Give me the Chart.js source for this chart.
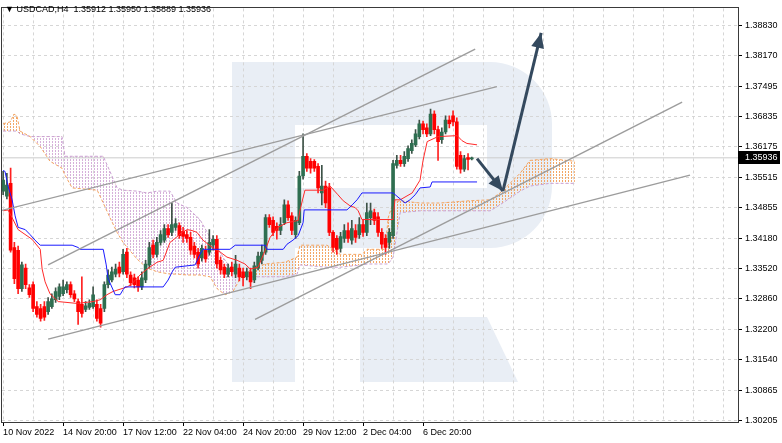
<!DOCTYPE html>
<html>
<head>
<meta charset="utf-8">
<title>USDCAD H4</title>
<script src="https://cdn.jsdelivr.net/npm/chart.js@4.4.1/dist/chart.umd.min.js"></script>
<style>
  html, body { margin: 0; padding: 0; background: #fff; }
  canvas { display: block; }
</style>
</head>
<body>
<canvas id="chart" width="782" height="443"></canvas>
<script>
// ---- values (bar index on x, price on y) ----
const symbolTitle = '\u25BC USDCAD,H4  1.35912 1.35950 1.35889 1.35936';
const lastPrice = 1.35936;

const timeLabels = ['10 Nov 2022', '14 Nov 20:00', '17 Nov 12:00', '22 Nov 04:00', '24 Nov 20:00', '29 Nov 12:00', '2 Dec 04:00', '6 Dec 20:00'];
const timeLabelBars = [0, 16, 32, 48, 64, 80, 96, 112];
const priceTicks = [1.38830, 1.38170, 1.37495, 1.36835, 1.36175, 1.35515, 1.34855, 1.34180, 1.33520, 1.32860, 1.32200, 1.31540, 1.30865, 1.30205];

const candleOpen = [
  1.3521, 1.3510, 1.3538, 1.3398, 1.3392, 1.3308, 1.3353, 1.3310, 1.3317, 1.3269,
  1.3265, 1.3269, 1.3258, 1.3269, 1.3284, 1.3291, 1.3297, 1.3306, 1.3317, 1.3297,
  1.3280, 1.3274, 1.3263, 1.3267, 1.3269, 1.3274, 1.3265, 1.3265, 1.3317, 1.3327,
  1.3340, 1.3355, 1.3345, 1.3388, 1.3338, 1.3332, 1.3327, 1.3312, 1.3327, 1.3360,
  1.3403, 1.3383, 1.3409, 1.3414, 1.3439, 1.3431, 1.3442, 1.3446, 1.3433, 1.3426,
  1.3420, 1.3401, 1.3388, 1.3375, 1.3392, 1.3388, 1.3403, 1.3416, 1.3370, 1.3355,
  1.3340, 1.3355, 1.3340, 1.3353, 1.3345, 1.3334, 1.3345, 1.3327, 1.3353, 1.3370,
  1.3388, 1.3463, 1.3457, 1.3444, 1.3435, 1.3452, 1.3491, 1.3467, 1.3426, 1.3452,
  1.3554, 1.3597, 1.3586, 1.3586, 1.3575, 1.3517, 1.3532, 1.3528, 1.3431, 1.3418,
  1.3396, 1.3418, 1.3435, 1.3414, 1.3435, 1.3426, 1.3448, 1.3431, 1.3463, 1.3474,
  1.3465, 1.3431, 1.3418, 1.3409, 1.3424, 1.3577, 1.3588, 1.3581, 1.3592, 1.3609,
  1.3622, 1.3640, 1.3668, 1.3659, 1.3646, 1.3689, 1.3655, 1.3633, 1.3650, 1.3676,
  1.3685, 1.3672, 1.3599, 1.3569, 1.3594, 1.35912
];
const candleHigh = [
  1.3564, 1.3560, 1.3571, 1.3409, 1.3401, 1.3366, 1.3362, 1.3317, 1.3323, 1.3280,
  1.3274, 1.3280, 1.3289, 1.3297, 1.3310, 1.3319, 1.3327, 1.3323, 1.3323, 1.3304,
  1.3286, 1.3334, 1.3280, 1.3284, 1.3312, 1.3284, 1.3274, 1.3323, 1.3349, 1.3355,
  1.3362, 1.3366, 1.3394, 1.3396, 1.3345, 1.3340, 1.3334, 1.3345, 1.3370, 1.3409,
  1.3414, 1.3420, 1.3435, 1.3448, 1.3448, 1.3495, 1.3461, 1.3452, 1.3442, 1.3435,
  1.3431, 1.3409, 1.3396, 1.3403, 1.3401, 1.3437, 1.3424, 1.3424, 1.3377, 1.3362,
  1.3362, 1.3366, 1.3381, 1.3362, 1.3353, 1.3353, 1.3353, 1.3366, 1.3388, 1.3403,
  1.3470, 1.3470, 1.3465, 1.3452, 1.3463, 1.3502, 1.3500, 1.3474, 1.3465, 1.3564,
  1.3646, 1.3603, 1.3592, 1.3590, 1.3581, 1.3577, 1.3543, 1.3538, 1.3435, 1.3424,
  1.3431, 1.3448, 1.3452, 1.3457, 1.3448, 1.3463, 1.3457, 1.3495, 1.3495, 1.3482,
  1.3474, 1.3439, 1.3426, 1.3439, 1.3588, 1.3599, 1.3599, 1.3607, 1.3620, 1.3633,
  1.3655, 1.3676, 1.3674, 1.3668, 1.3700, 1.3696, 1.3663, 1.3659, 1.3685, 1.3685,
  1.3696, 1.3681, 1.3607, 1.3599, 1.3603, 1.35950
];
const candleLow = [
  1.3513, 1.3504, 1.3388, 1.3319, 1.3297, 1.3302, 1.3308, 1.3289, 1.3258, 1.3246,
  1.3237, 1.3239, 1.3252, 1.3265, 1.3278, 1.3284, 1.3293, 1.3299, 1.3289, 1.3280,
  1.3230, 1.3246, 1.3258, 1.3263, 1.3265, 1.3237, 1.3224, 1.3258, 1.3310, 1.3323,
  1.3334, 1.3334, 1.3340, 1.3332, 1.3314, 1.3310, 1.3302, 1.3306, 1.3321, 1.3353,
  1.3375, 1.3377, 1.3403, 1.3409, 1.3420, 1.3424, 1.3435, 1.3418, 1.3409, 1.3409,
  1.3383, 1.3375, 1.3353, 1.3368, 1.3366, 1.3381, 1.3392, 1.3353, 1.3340, 1.3332,
  1.3334, 1.3336, 1.3332, 1.3325, 1.3314, 1.3327, 1.3308, 1.3321, 1.3349, 1.3362,
  1.3383, 1.3442, 1.3424, 1.3416, 1.3426, 1.3448, 1.3457, 1.3426, 1.3418, 1.3448,
  1.3547, 1.3564, 1.3560, 1.3564, 1.3517, 1.3491, 1.3485, 1.3424, 1.3388, 1.3383,
  1.3388, 1.3409, 1.3409, 1.3405, 1.3409, 1.3418, 1.3422, 1.3424, 1.3448, 1.3448,
  1.3422, 1.3396, 1.3383, 1.3396, 1.3418, 1.3571, 1.3575, 1.3575, 1.3586, 1.3603,
  1.3618, 1.3635, 1.3646, 1.3640, 1.3642, 1.3646, 1.3588, 1.3625, 1.3646, 1.3659,
  1.3663, 1.3569, 1.3560, 1.3564, 1.3567, 1.35889
];
const candleClose = [
  1.3545, 1.3534, 1.3392, 1.3330, 1.3308, 1.3360, 1.3317, 1.3295, 1.3265, 1.3252,
  1.3243, 1.3246, 1.3280, 1.3286, 1.3302, 1.3312, 1.3312, 1.3317, 1.3295, 1.3286,
  1.3258, 1.3254, 1.3271, 1.3276, 1.3295, 1.3243, 1.3233, 1.3317, 1.3338, 1.3345,
  1.3351, 1.3342, 1.3383, 1.3340, 1.3321, 1.3317, 1.3312, 1.3332, 1.3362, 1.3398,
  1.3383, 1.3409, 1.3426, 1.3439, 1.3426, 1.3448, 1.3450, 1.3424, 1.3422, 1.3418,
  1.3392, 1.3383, 1.3362, 1.3396, 1.3373, 1.3409, 1.3416, 1.3362, 1.3349, 1.3340,
  1.3353, 1.3345, 1.3362, 1.3334, 1.3332, 1.3345, 1.3323, 1.3358, 1.3379, 1.3388,
  1.3463, 1.3448, 1.3431, 1.3435, 1.3448, 1.3491, 1.3463, 1.3435, 1.3457, 1.3554,
  1.3597, 1.3571, 1.3571, 1.3571, 1.3528, 1.3532, 1.3495, 1.3431, 1.3398, 1.3394,
  1.3422, 1.3435, 1.3418, 1.3439, 1.3420, 1.3448, 1.3431, 1.3474, 1.3478, 1.3457,
  1.3431, 1.3405, 1.3398, 1.3431, 1.3581, 1.3588, 1.3581, 1.3597, 1.3614, 1.3625,
  1.3646, 1.3668, 1.3655, 1.3646, 1.3689, 1.3655, 1.3629, 1.3650, 1.3676, 1.3668,
  1.3672, 1.3575, 1.3569, 1.3592, 1.3590, 1.35936
];

// Ichimoku lines, read at their turning points
const tenkanBars = [0, 1.3, 2.4, 4, 7.7, 9.9, 10.4, 11.2, 12.5, 14.7, 19.7, 24, 25.9, 27.7, 29.3, 33.1, 34.4, 36.5, 38.4, 41.1, 42.7, 44.5, 45.9, 47.7, 49.1, 50.4, 51.7, 53.3, 54.7, 56.5, 57.9, 59.7, 62.4, 64.5, 65.9, 68, 69.9, 71.2, 73.3, 75.7, 78.7, 79.2, 80.5, 85.3, 87.2, 89.3, 90.7, 92.5, 93.9, 94.7, 95.7, 104, 104.5, 105.9, 109.1, 111.2, 112, 113.1, 116, 121.1, 122.4, 123.7, 126.4];
const tenkanValues = [1.3478, 1.3480, 1.3463, 1.3437, 1.3416, 1.3394, 1.3351, 1.3323, 1.3297, 1.3280, 1.3276, 1.3280, 1.3284, 1.3295, 1.3302, 1.3312, 1.3319, 1.3338, 1.3351, 1.3366, 1.3370, 1.3409, 1.3418, 1.3431, 1.3437, 1.3435, 1.3431, 1.3414, 1.3405, 1.3394, 1.3388, 1.3377, 1.3370, 1.3362, 1.3351, 1.3355, 1.3392, 1.3420, 1.3442, 1.3452, 1.3457, 1.3480, 1.3523, 1.3523, 1.3532, 1.3513, 1.3500, 1.3489, 1.3485, 1.3478, 1.3459, 1.3459, 1.3502, 1.3502, 1.3517, 1.3545, 1.3588, 1.3629, 1.3640, 1.3642, 1.3631, 1.3625, 1.3622];

const kijunBars = [0, 0.5, 1.3, 2.4, 3.2, 4, 5.9, 7.2, 8.5, 9.9, 18.4, 20, 20.5, 26.7, 27.5, 28, 29.9, 31.2, 32, 32.5, 42.7, 44, 45.1, 45.9, 51.2, 52.5, 53.3, 60.5, 61.9, 69.9, 70.4, 74.7, 75.7, 77.3, 78.7, 80, 80.3, 91.7, 93.1, 94.4, 95.7, 104, 105.9, 107.2, 108.5, 109.9, 111.2, 113.9, 114.4, 126.4];
const kijunValues = [1.3566, 1.3564, 1.3532, 1.3502, 1.3467, 1.3442, 1.3437, 1.3426, 1.3414, 1.3403, 1.3403, 1.3398, 1.3394, 1.3394, 1.3360, 1.3330, 1.3295, 1.3295, 1.3306, 1.3312, 1.3312, 1.3327, 1.3345, 1.3355, 1.3360, 1.3383, 1.3394, 1.3394, 1.3403, 1.3403, 1.3394, 1.3394, 1.3405, 1.3414, 1.3424, 1.3452, 1.3480, 1.3480, 1.3491, 1.3502, 1.3517, 1.3517, 1.3504, 1.3495, 1.3502, 1.3513, 1.3528, 1.3530, 1.3541, 1.3541];

// cloud (shifted 26 bars ahead)
const cloudBars = [0, 1.9, 2.9, 3.7, 4.5, 7.2, 9.9, 12.5, 15.7, 16.5, 18.4, 25.1, 26.7, 28.5, 30.4, 32, 35.7, 38.4, 41.1, 44.5, 46.4, 49.1, 52.5, 55.2, 57.1, 59.2, 61.3, 63.2, 65.9, 69.9, 75.2, 78.4, 79.2, 86.4, 89.9, 95.7, 97.1, 101.9, 102.7, 104, 105.9, 111.2, 116.5, 124.5, 129.9, 132.5, 135.2, 137.9, 140.5, 145.9, 152.5];
const spanA = [1.3668, 1.3672, 1.3689, 1.3685, 1.3652, 1.3640, 1.3618, 1.3586, 1.3571, 1.3556, 1.3528, 1.3523, 1.3495, 1.3463, 1.3431, 1.3409, 1.3373, 1.3353, 1.3345, 1.3340, 1.3340, 1.3338, 1.3338, 1.3334, 1.3308, 1.3295, 1.3302, 1.3330, 1.3349, 1.3362, 1.3366, 1.3377, 1.3403, 1.3403, 1.3383, 1.3383, 1.3394, 1.3394, 1.3463, 1.3495, 1.3500, 1.3495, 1.3495, 1.3500, 1.3502, 1.3517, 1.3538, 1.3560, 1.3588, 1.3592, 1.3586];
const spanB = [1.3652, 1.3652, 1.3652, 1.3652, 1.3646, 1.3640, 1.3640, 1.3640, 1.3640, 1.3597, 1.3597, 1.3597, 1.3597, 1.3564, 1.3528, 1.3523, 1.3521, 1.3517, 1.3521, 1.3521, 1.3495, 1.3485, 1.3459, 1.3420, 1.3398, 1.3370, 1.3349, 1.3338, 1.3334, 1.3334, 1.3334, 1.3340, 1.3360, 1.3355, 1.3355, 1.3360, 1.3362, 1.3362, 1.3362, 1.3377, 1.3474, 1.3478, 1.3478, 1.3478, 1.3478, 1.3491, 1.3506, 1.3521, 1.3532, 1.3538, 1.3538];

// hand-drawn channel lines
const trendStartBars = [-0.8, 12, 12, 67.2];
const trendStartPrices = [1.3478, 1.3360, 1.3198, 1.3241];
const trendEndBars = [131.7, 125.9, 183.2, 181.1];
const trendEndPrices = [1.3749, 1.3831, 1.3556, 1.3715];

// forecast arrows
const arrowFromBars = [126.4, 133.3];
const arrowFromPrices = [1.3592, 1.3521];
const arrowToBars = [133.3, 143.5];
const arrowToPrices = [1.3521, 1.3866];

// ---- styling ----
const FONT = '"Liberation Sans", Arial, sans-serif';
const GRID = '#d6d6d6';
const ARROW = '#34495e';

function dotPattern(color) {
  const tile = document.createElement('canvas');
  tile.width = 3;
  tile.height = 3;
  const g = tile.getContext('2d');
  g.fillStyle = color;
  g.fillRect(1, 0, 1, 2);
  return g.createPattern(tile, 'repeat');
}
const bullCloud = dotPattern('#f3a766');
const bearCloud = dotPattern('#d6b0da');

const bull = candleOpen.map((o, i) => candleClose[i] >= o);
const pts = (xs, ys) => xs.map((x, i) => ({ x, y: ys[i] }));
const lineBase = { type: 'line', pointRadius: 0, tension: 0, fill: false, borderWidth: 1 };

const datasets = [
  { ...lineBase, label: 'last', data: [{ x: -0.3, y: lastPrice }, { x: 196, y: lastPrice }], borderColor: '#cccccc', order: 9 },
  { ...lineBase, label: 'Senkou A', data: pts(cloudBars, spanA), borderColor: '#f4a460', borderDash: [3, 2], order: 8 },
  { ...lineBase, label: 'Senkou B', data: pts(cloudBars, spanB), borderColor: '#c9a0d2', borderDash: [3, 2], order: 8 },
  { type: 'bar', label: 'wick', data: candleOpen.map((_, i) => ({ x: i, y: [candleLow[i], candleHigh[i]] })),
    backgroundColor: bull.map(b => (b ? '#3d5247' : '#ff2020')), barThickness: 1, grouped: false, order: 3 },
  { type: 'bar', label: 'body', data: candleOpen.map((o, i) => ({ x: i, y: [o, candleClose[i]] })),
    backgroundColor: bull.map(b => (b ? '#2e6e50' : '#ff0000')), barThickness: 3, minBarLength: 1, grouped: false, order: 2 },
  { ...lineBase, label: 'Kijun', data: pts(kijunBars, kijunValues), borderColor: '#1a1aff', order: 1 },
  { ...lineBase, label: 'Tenkan', data: pts(tenkanBars, tenkanValues), borderColor: '#ff2a2a', order: 1 },
];

trendStartBars.forEach((b, i) => {
  datasets.push({ ...lineBase, label: 'trend' + i, borderColor: '#9c9c9c', borderWidth: 1.4, order: 0.5,
    data: [{ x: b, y: trendStartPrices[i] }, { x: trendEndBars[i], y: trendEndPrices[i] }] });
});
arrowFromBars.forEach((b, i) => {
  datasets.push({ ...lineBase, label: 'arrow' + i, borderColor: ARROW, borderWidth: 3, order: 0,
    data: [{ x: b, y: arrowFromPrices[i] }, { x: arrowToBars[i], y: arrowToPrices[i] }] });
});

// the Kumo: orange dots where span A is above span B, violet where below
function drawCloud(chart) {
  const { ctx, chartArea: a, scales: { x, y } } = chart;
  const pa = cloudBars.map((b, i) => [x.getPixelForValue(b), y.getPixelForValue(spanA[i])]);
  const pb = cloudBars.map((b, i) => [x.getPixelForValue(b), y.getPixelForValue(spanB[i])]);
  const band = () => {
    ctx.beginPath();
    pa.forEach(([px, py], i) => (i ? ctx.lineTo(px, py) : ctx.moveTo(px, py)));
    for (let i = pb.length - 1; i >= 0; i--) ctx.lineTo(pb[i][0], pb[i][1]);
    ctx.closePath();
  };
  const clipToB = (edge) => {
    ctx.beginPath();
    pb.forEach(([px, py], i) => (i ? ctx.lineTo(px, py) : ctx.moveTo(px, py)));
    ctx.lineTo(pb[pb.length - 1][0], edge);
    ctx.lineTo(pb[0][0], edge);
    ctx.closePath();
    ctx.clip();
  };
  ctx.save();
  ctx.beginPath();
  ctx.rect(a.left, a.top, a.width, a.height);
  ctx.clip();
  ctx.save();
  clipToB(a.top);
  band();
  ctx.fillStyle = bullCloud;
  ctx.fill();
  ctx.restore();
  ctx.save();
  clipToB(a.bottom);
  band();
  ctx.fillStyle = bearCloud;
  ctx.fill();
  ctx.restore();
  ctx.restore();
}

// watermark, cloud, frame, title, arrow heads and the price tag
const decor = {
  id: 'decor',
  beforeDraw(chart) {
    const { ctx } = chart;
    ctx.save();
    ctx.fillStyle = '#ffffff';
    ctx.fillRect(0, 0, chart.width, chart.height);
    ctx.fillStyle = '#e9eef5';
    ctx.fillRect(232, 62, 63, 320);               // stem
    ctx.beginPath();                               // bowl
    ctx.moveTo(295, 62);
    ctx.lineTo(490, 62);
    ctx.arcTo(552, 62, 552, 124, 62);
    ctx.lineTo(552, 186);
    ctx.arcTo(552, 248, 490, 248, 62);
    ctx.lineTo(295, 248);
    ctx.lineTo(295, 188);
    ctx.lineTo(487, 188);
    ctx.lineTo(487, 125);
    ctx.lineTo(295, 125);
    ctx.closePath();
    ctx.fill();
    ctx.beginPath();                               // leg
    ctx.moveTo(360, 317);
    ctx.lineTo(487, 317);
    ctx.lineTo(518, 382);
    ctx.lineTo(360, 382);
    ctx.closePath();
    ctx.fill();
    ctx.restore();
  },
  beforeDatasetsDraw(chart) {
    drawCloud(chart);
  },
  afterDraw(chart) {
    const { ctx, chartArea: a, scales: { x, y } } = chart;
    ctx.save();
    // arrow heads
    ctx.fillStyle = ARROW;
    arrowToBars.forEach((b, i) => {
      const x0 = x.getPixelForValue(arrowFromBars[i]), y0 = y.getPixelForValue(arrowFromPrices[i]);
      const x1 = x.getPixelForValue(b), y1 = y.getPixelForValue(arrowToPrices[i]);
      const ang = Math.atan2(y1 - y0, x1 - x0), L = 15, W = 6.5;
      ctx.beginPath();
      ctx.moveTo(x1, y1);
      ctx.lineTo(x1 - L * Math.cos(ang) + W * Math.sin(ang), y1 - L * Math.sin(ang) - W * Math.cos(ang));
      ctx.lineTo(x1 - L * Math.cos(ang) - W * Math.sin(ang), y1 - L * Math.sin(ang) + W * Math.cos(ang));
      ctx.closePath();
      ctx.fill();
    });
    // frame
    ctx.strokeStyle = '#3a3a3a';
    ctx.lineWidth = 1;
    ctx.strokeRect(Math.round(a.left) - 0.5, Math.round(a.top) - 0.5, Math.round(a.width) + 1, Math.round(a.height) + 1);
    // title
    ctx.fillStyle = '#000';
    ctx.font = '9px ' + FONT;
    ctx.textBaseline = 'middle';
    ctx.fillText(symbolTitle, 5, 10);
    // current price tag
    const py = Math.round(y.getPixelForValue(lastPrice));
    ctx.fillStyle = '#000';
    ctx.fillRect(a.right, py - 7, 42, 13);
    ctx.fillStyle = '#fff';
    ctx.fillText(lastPrice.toFixed(5), a.right + 7, py);
    ctx.restore();
  }
};

new Chart(document.getElementById('chart'), {
  type: 'line',
  data: { datasets },
  options: {
    responsive: false,
    animation: false,
    devicePixelRatio: 1,
    events: [],
    layout: { padding: { left: 2, top: 3, right: 0, bottom: 0 } },
    plugins: { legend: { display: false }, tooltip: { enabled: false } },
    scales: {
      x: {
        type: 'linear',
        min: -0.3,
        max: 196,
        offset: false,
        afterBuildTicks(scale) {
          const t = [];
          for (let v = 0; v <= 192; v += 8) t.push({ value: v });
          scale.ticks = t;
        },
        afterFit(scale) { scale.height = 21; },
        grid: {
          offset: false,
          color: GRID,
          tickLength: 4,
          tickColor: (c) => (c.tick && timeLabelBars.includes(c.tick.value) ? '#000' : 'rgba(0,0,0,0)'),
        },
        border: { display: false, dash: [3, 3] },
        ticks: {
          autoSkip: false,
          maxRotation: 0,
          align: 'start',
          padding: 1,
          color: '#000',
          font: { family: FONT, size: 9 },
          callback: (v) => {
            const k = timeLabelBars.indexOf(v);
            return k >= 0 ? timeLabels[k] : '';
          },
        },
      },
      y: {
        type: 'linear',
        position: 'right',
        min: 1.30173,
        max: 1.39196,
        beginAtZero: false,
        afterBuildTicks(scale) { scale.ticks = priceTicks.map((v) => ({ value: v })); },
        afterFit(scale) { scale.width = 44; },
        grid: { color: GRID, tickLength: 4, tickColor: '#000' },
        border: { display: false, dash: [3, 3] },
        ticks: {
          padding: 3,
          color: '#000',
          font: { family: FONT, size: 9 },
          callback: (v) => Number(v).toFixed(5),
        },
      },
    },
  },
  plugins: [decor],
});
</script>
</body>
</html>
